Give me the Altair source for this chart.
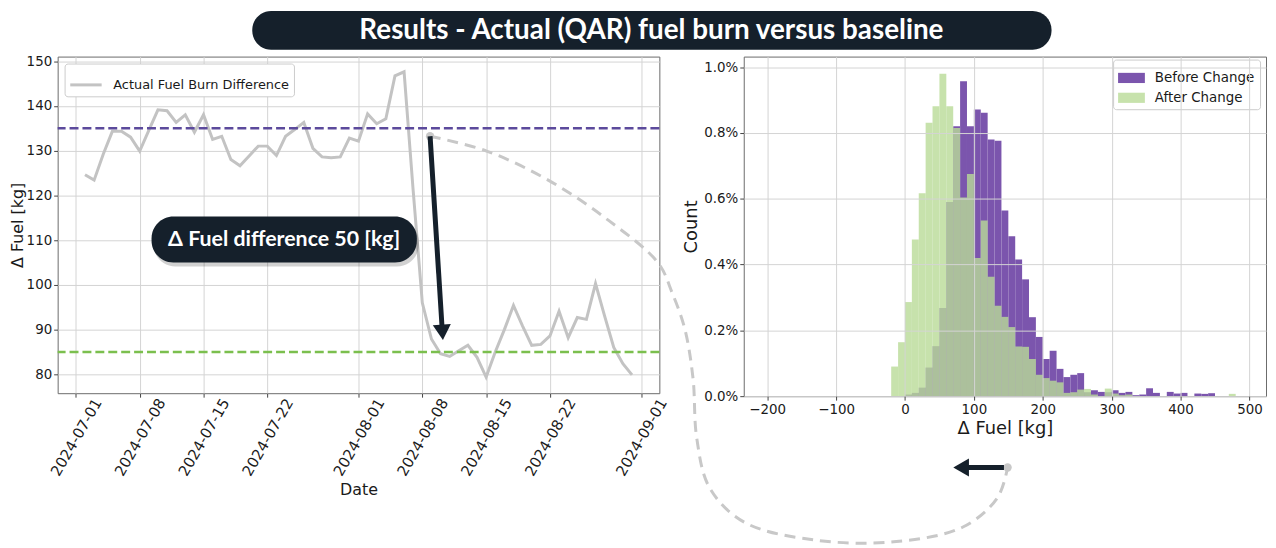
import altair as alt
import pandas as pd

# ---------------- left panel: daily actual fuel-burn difference ----------------
START = "2024-07-01"
DAY_OFFSETS = list(range(1, 62))  # days after 2024-07-01 (Jul 2 .. Aug 31)
FUEL_DIFF = [124.6, 123.4, 129.2, 134.3, 134.3, 133.0, 129.9, 134.5, 139.1, 138.9,
             136.3, 138.0, 134.1, 138.0, 132.5, 133.2, 128.0, 126.6, 128.8, 131.0,
             131.0, 128.9, 133.2, 134.7, 136.3, 130.5, 128.6, 128.4, 128.6, 132.8,
             132.1, 138.2, 136.0, 137.1, 146.7, 147.6, 121.0, 96.0, 87.9, 84.6,
             84.0, 85.3, 86.5, 83.8, 79.4, 85.0, 90.0, 95.4, 90.8, 86.5,
             86.7, 88.6, 94.1, 88.2, 92.7, 92.3, 100.3, 93.0, 86.0, 82.4, 79.9]
SERIES_NAME = "Actual Fuel Burn Difference"
BASELINE_BEFORE = 135
BASELINE_AFTER = 85
X_DOMAIN_DAYS = [-2, 64]
DATE_TICK_DAYS = [0, 7, 14, 21, 31, 38, 45, 52, 62]
Y_TICKS_LEFT = [80, 90, 100, 110, 120, 130, 140, 150]
Y_DOMAIN_LEFT = [75.8, 151.0]

# annotations (in the left panel's data units)
LABEL_TEXT = "Δ Fuel difference 50 [kg]"
LABEL_BOX_DAYS = [8.3, 37.4]
LABEL_BOX_VALUES = [105.0, 115.3]
LABEL_POS = [22.85, 110.1]
ARROW_DAYS = [38.85, 40.2]
ARROW_VALUES = [133.2, 89.4]
CONNECTOR_DAYS = [38.85, 45.05, 51.9, 58.43, 63.87, 65.39, 66.8, 67.7, 68.1, 69.5,
                  73.3, 81.0, 89.7, 97.3, 101.1, 102.2]
CONNECTOR_VALUES = [133.2, 129.9, 123.3, 114.4, 104.9, 98.3, 90.1, 79.0, 65.8, 54.7,
                    47.0, 43.0, 42.6, 45.9, 52.5, 59.2]
BACK_ARROW_DAYS = [97.1, 101.8]
BACK_ARROW_VALUE = 59.2

TITLE_TEXT = "Results - Actual (QAR) fuel burn versus baseline"

# ---------------- right panel: histogram (percent of flights) ----------------
BIN_WIDTH = 10
BIN_STARTS = list(range(-20, 490, 10))
BEFORE_PCT = [0, 0, 0.005, 0.01, 0.026, 0.087, 0.152, 0.268, 0.59, 0.82,
              0.957, 0.82, 0.871, 0.861, 0.78, 0.776, 0.564, 0.486, 0.415, 0.355,
              0.24, 0.18, 0.113, 0.138, 0.083, 0.058, 0.065, 0.07, 0.012, 0.018,
              0.013, 0.012, 0.018, 0.01, 0.013, 0.003, 0.005, 0.024, 0.01, 0,
              0.013, 0.008, 0.01, 0, 0.008, 0.007, 0.009, 0, 0, 0,
              0]
AFTER_PCT = [0.09, 0.164, 0.286, 0.476, 0.617, 0.831, 0.881, 0.98, 0.881, 0.815,
             0.604, 0.675, 0.42, 0.534, 0.363, 0.275, 0.241, 0.21, 0.151, 0.15,
             0.113, 0.065, 0.055, 0.047, 0.042, 0.01, 0.012, 0.02, 0.022, 0.005,
             0, 0.023, 0.008, 0.003, 0.005, 0, 0, 0, 0, 0,
             0, 0, 0, 0, 0, 0, 0, 0, 0, 0.007,
             0]
HIST_SERIES = ["Before Change", "After Change"]
X_TICKS_RIGHT = [-200, -100, 0, 100, 200, 300, 400, 500]
X_DOMAIN_RIGHT = [-234, 524]
Y_TICKS_RIGHT = [0, 0.002, 0.004, 0.006, 0.008, 0.010]
Y_DOMAIN_RIGHT = [0, 0.01032]

# colours
NAVY = "#15202b"
LINE_GREY = "#c3c3c3"
PURPLE_DASH = "#5c4a9c"
GREEN_DASH = "#7bbf4e"
HIST_PURPLE = "#7b55ad"
HIST_GREEN = "#b9db97"

start = pd.Timestamp(START, tz="UTC")


def to_ms(days):
    return [int((start + pd.Timedelta(days=float(d))).value // 1_000_000) for d in days]


x_scale = alt.Scale(type="utc", domain=to_ms(X_DOMAIN_DAYS))
y_scale = alt.Scale(domain=Y_DOMAIN_LEFT, nice=False, zero=False)
x_axis = alt.Axis(values=to_ms(DATE_TICK_DAYS),
                  labelExpr="utcFormat(datum.value, '%Y-%m-%d')",
                  labelAngle=-60, labelAlign="center", labelBaseline="middle",
                  labelFontSize=15, title="Date", titleFontSize=16, titlePadding=3,
                  tickSize=4, labelPadding=40, grid=True)
y_axis = alt.Axis(values=Y_TICKS_LEFT, labelFontSize=13.5, title="Δ Fuel [kg]",
                  titleFontSize=16, titlePadding=1, tickSize=4, labelPadding=2, grid=True)


def X(f):
    return alt.X(f"{f}:T", scale=x_scale, axis=x_axis)


def Y(f):
    return alt.Y(f"{f}:Q", scale=y_scale, axis=y_axis)


line_df = pd.DataFrame({"date": to_ms(DAY_OFFSETS), "fuel": FUEL_DIFF, "series": SERIES_NAME})

line = alt.Chart(line_df).mark_line(strokeWidth=3).encode(
    x=X("date"), y=Y("fuel"),
    color=alt.Color("series:N", scale=alt.Scale(domain=[SERIES_NAME], range=[LINE_GREY]),
                    legend=alt.Legend(title=None, orient="top-left", offset=7,
                                      fillColor="white", strokeColor="#cccccc",
                                      cornerRadius=3, padding=4, labelFontSize=13,
                                      labelFont="DejaVu Sans", labelColor="#1a1a1a",
                                      labelLimit=0,
                                      symbolType="stroke", symbolSize=1000,
                                      symbolStrokeWidth=3, labelOffset=10)),
)

rule_before = alt.Chart(pd.DataFrame({"v": [BASELINE_BEFORE]})).mark_rule(
    color=PURPLE_DASH, strokeWidth=2.5, strokeDash=[9, 4]).encode(y=Y("v"))
rule_after = alt.Chart(pd.DataFrame({"v": [BASELINE_AFTER]})).mark_rule(
    color=GREEN_DASH, strokeWidth=2.5, strokeDash=[9, 4]).encode(y=Y("v"))

conn_df = pd.DataFrame({"d": to_ms(CONNECTOR_DAYS), "v": CONNECTOR_VALUES,
                        "i": list(range(len(CONNECTOR_DAYS)))})
connector = alt.Chart(conn_df).mark_line(
    color="#c8c8c8", strokeWidth=3, strokeDash=[11, 7], interpolate="catmull-rom",
    clip=False).encode(x=X("d"), y=Y("v"), order="i:Q")

box_df = pd.DataFrame({"d1": to_ms([LABEL_BOX_DAYS[0]]), "d2": to_ms([LABEL_BOX_DAYS[1]]),
                       "v1": [LABEL_BOX_VALUES[0]], "v2": [LABEL_BOX_VALUES[1]]})
shadow = alt.Chart(box_df).mark_rect(cornerRadius=22, color="#000000", opacity=0.18,
                                     xOffset=2, x2Offset=2, yOffset=4, y2Offset=4).encode(
    x=X("d1"), x2=alt.X2("d2"), y=Y("v1"), y2=alt.Y2("v2"))
box = alt.Chart(box_df).mark_rect(cornerRadius=22, color=NAVY).encode(
    x=X("d1"), x2=alt.X2("d2"), y=Y("v1"), y2=alt.Y2("v2"))
label_df = pd.DataFrame({"d": to_ms([LABEL_POS[0]]), "v": [LABEL_POS[1]], "t": [LABEL_TEXT]})
label = alt.Chart(label_df).mark_text(font="Lato", fontWeight="bold", fontSize=21.5,
                                      color="white", align="center", baseline="middle").encode(
    x=X("d"), y=Y("v"), text="t:N")

arrow_df = pd.DataFrame({"d": to_ms(ARROW_DAYS), "v": ARROW_VALUES, "i": [0, 1]})
arrow_line = alt.Chart(arrow_df).mark_line(color=NAVY, strokeWidth=5).encode(
    x=X("d"), y=Y("v"), order="i:Q")
arrow_head = alt.Chart(arrow_df.iloc[[1]]).mark_point(
    shape="triangle-down", filled=True, size=330, color=NAVY, opacity=1, angle=356).encode(
    x=X("d"), y=Y("v"))
dot_df = pd.DataFrame({"d": to_ms([CONNECTOR_DAYS[0], CONNECTOR_DAYS[-1]]),
                       "v": [CONNECTOR_VALUES[0], CONNECTOR_VALUES[-1]]})
dots = alt.Chart(dot_df).mark_point(filled=True, size=70, color="#c8c8c8", opacity=1,
                                    clip=False).encode(x=X("d"), y=Y("v"))

back_df = pd.DataFrame({"d": to_ms(BACK_ARROW_DAYS), "v": [BACK_ARROW_VALUE] * 2, "i": [0, 1]})
back_line = alt.Chart(back_df).mark_line(color=NAVY, strokeWidth=5, clip=False).encode(
    x=X("d"), y=Y("v"), order="i:Q")
back_head = alt.Chart(back_df.iloc[[0]]).mark_point(
    shape="triangle-left", filled=True, size=330, color=NAVY, opacity=1, clip=False).encode(
    x=X("d"), y=Y("v"))

one = pd.DataFrame({"k": [0]})
title_box = alt.Chart(one).mark_rect(cornerRadius=19, color=NAVY, clip=False).encode(
    x=alt.value(196), x2=alt.value(1001), y=alt.value(-46), y2=alt.value(-7))
title_text = alt.Chart(one).mark_text(font="Lato", fontWeight="bold", fontSize=28,
                                      color="white", align="center", baseline="middle",
                                      clip=False).encode(
    x=alt.value(598), y=alt.value(-26), text=alt.value(TITLE_TEXT))

left = alt.layer(line, rule_before, rule_after, connector, shadow, box, label,
                 dots, arrow_line, arrow_head, back_line, back_head,
                 title_box, title_text).properties(width=606, height=339)

# ---------------- right panel ----------------
rows = []
for name, vals in zip(HIST_SERIES, [BEFORE_PCT, AFTER_PCT]):
    for b, p in zip(BIN_STARTS, vals):
        if p > 0:
            rows.append({"x1": b, "x2": b + BIN_WIDTH, "pct": p / 100.0, "series": name})
hist_df = pd.DataFrame(rows)

hist_legend = alt.Legend(title=None, orient="none", legendX=372, legendY=3, fillColor="white",
                         strokeColor="#cccccc", cornerRadius=3, padding=5,
                         labelFontSize=13.5, labelFont="DejaVu Sans", labelColor="#1a1a1a",
                         symbolType="M-1,-0.38L1,-0.38L1,0.38L-1,0.38Z", symbolSize=729,
                         symbolStrokeWidth=0, labelOffset=10, rowPadding=0, labelLimit=0)

hist = alt.Chart(hist_df).mark_rect().encode(
    x=alt.X("x1:Q", scale=alt.Scale(domain=X_DOMAIN_RIGHT, nice=False, zero=False),
            axis=alt.Axis(values=X_TICKS_RIGHT, title="Δ Fuel [kg]", titleFontSize=18,
                          titlePadding=4, labelFontSize=13.5, tickSize=4, labelPadding=2,
                          grid=True, zindex=1)),
    x2=alt.X2("x2"),
    y=alt.Y("pct:Q", scale=alt.Scale(domain=Y_DOMAIN_RIGHT, nice=False),
            axis=alt.Axis(values=Y_TICKS_RIGHT, format=".1%", title="Count",
                          titleFontSize=18, titlePadding=3, labelFontSize=13.5,
                          tickSize=4, labelPadding=2, grid=True, zindex=1)),
    y2=alt.datum(0),
    color=alt.Color("series:N", scale=alt.Scale(domain=HIST_SERIES, range=[HIST_PURPLE, HIST_GREEN]),
                    legend=hist_legend),
    opacity=alt.Opacity("series:N", scale=alt.Scale(domain=HIST_SERIES, range=[1.0, 0.8]),
                        legend=hist_legend),
).properties(width=526, height=342)

chart = alt.hconcat(left, hist, spacing=85, bounds="flush").resolve_scale(
    color="independent", opacity="independent"
).configure(
    padding={"left": 0, "top": 0, "right": 1, "bottom": 0}
).configure_view(
    stroke="#6b6b6b", strokeWidth=1
).configure_axis(
    labelFont="DejaVu Sans", titleFont="DejaVu Sans", titleFontWeight="normal",
    labelColor="#1a1a1a", titleColor="#1a1a1a", gridColor="#d4d4d4", gridWidth=1,
    domain=False, tickColor="#444444", tickWidth=1
)

chart.save("out.html", embed_options={"renderer": "svg", "actions": False})
